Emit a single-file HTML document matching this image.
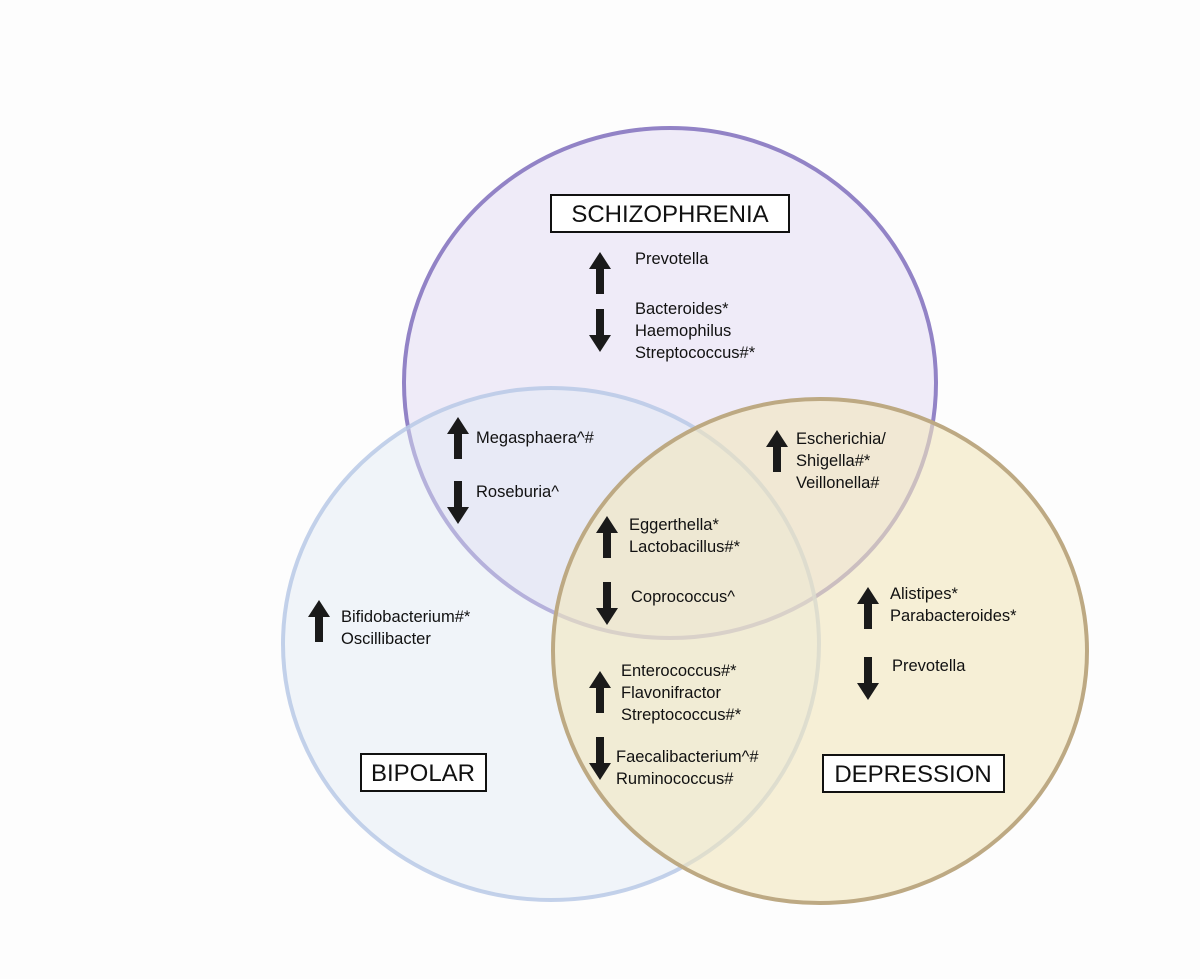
<!DOCTYPE html>
<html><head><meta charset="utf-8"><style>
html,body{margin:0;padding:0;background:#fdfdfd;}
svg{display:block;}
text{font-family:"Liberation Sans",sans-serif;font-size:16.5px;fill:#111;}
.lb{font-size:24px;}
</style></head><body>
<svg width="1200" height="979" viewBox="0 0 1200 979">
<defs>
<g id="up"><polygon points="0,0 11,17 4,17 4,42 -4,42 -4,17 -11,17" fill="#1a1a1a"/></g>
<g id="dn"><polygon points="0,43 11,26 4,26 4,0 -4,0 -4,26 -11,26" fill="#1a1a1a"/></g>
</defs>
<ellipse cx="670" cy="383" rx="266" ry="255" fill="#e6e0f5" fill-opacity="0.6" stroke="#9283c6" stroke-width="4"/>
<ellipse cx="551" cy="644" rx="268" ry="256" fill="#dfe8f4" fill-opacity="0.45" stroke="#b8c9e6" stroke-opacity="0.85" stroke-width="4"/>
<ellipse cx="820" cy="651" rx="267" ry="252" fill="#f1e6bd" fill-opacity="0.6" stroke="#bda983" stroke-width="4"/>

<rect x="551" y="195" width="238" height="37" fill="#fff" stroke="#111" stroke-width="2"/>
<text class="lb" x="670" y="222" text-anchor="middle">SCHIZOPHRENIA</text>
<rect x="361" y="754" width="125" height="37" fill="#fff" stroke="#111" stroke-width="2"/>
<text class="lb" x="423" y="781" text-anchor="middle">BIPOLAR</text>
<rect x="823" y="755" width="181" height="37" fill="#fff" stroke="#111" stroke-width="2"/>
<text class="lb" x="913" y="782" text-anchor="middle">DEPRESSION</text>

<use href="#up" x="600" y="252"/><use href="#dn" x="600" y="309"/>
<text x="635" y="264">Prevotella</text>
<text x="635" y="314">Bacteroides*</text>
<text x="635" y="336">Haemophilus</text>
<text x="635" y="358">Streptococcus#*</text>

<use href="#up" x="458" y="417"/><use href="#dn" x="458" y="481"/>
<text x="476" y="443">Megasphaera^#</text>
<text x="476" y="497">Roseburia^</text>

<use href="#up" x="777" y="430"/>
<text x="796" y="444">Escherichia/</text>
<text x="796" y="466">Shigella#*</text>
<text x="796" y="488">Veillonella#</text>

<use href="#up" x="607" y="516"/><use href="#dn" x="607" y="582"/>
<text x="629" y="530">Eggerthella*</text>
<text x="629" y="552">Lactobacillus#*</text>
<text x="631" y="602">Coprococcus^</text>

<use href="#up" x="319" y="600"/>
<text x="341" y="622">Bifidobacterium#*</text>
<text x="341" y="644">Oscillibacter</text>

<use href="#up" x="868" y="587"/><use href="#dn" x="868" y="657"/>
<text x="890" y="599">Alistipes*</text>
<text x="890" y="621">Parabacteroides*</text>
<text x="892" y="671">Prevotella</text>

<use href="#up" x="600" y="671"/><use href="#dn" x="600" y="737"/>
<text x="621" y="676">Enterococcus#*</text>
<text x="621" y="698">Flavonifractor</text>
<text x="621" y="720">Streptococcus#*</text>
<text x="616" y="762">Faecalibacterium^#</text>
<text x="616" y="784">Ruminococcus#</text>
</svg>
</body></html>
